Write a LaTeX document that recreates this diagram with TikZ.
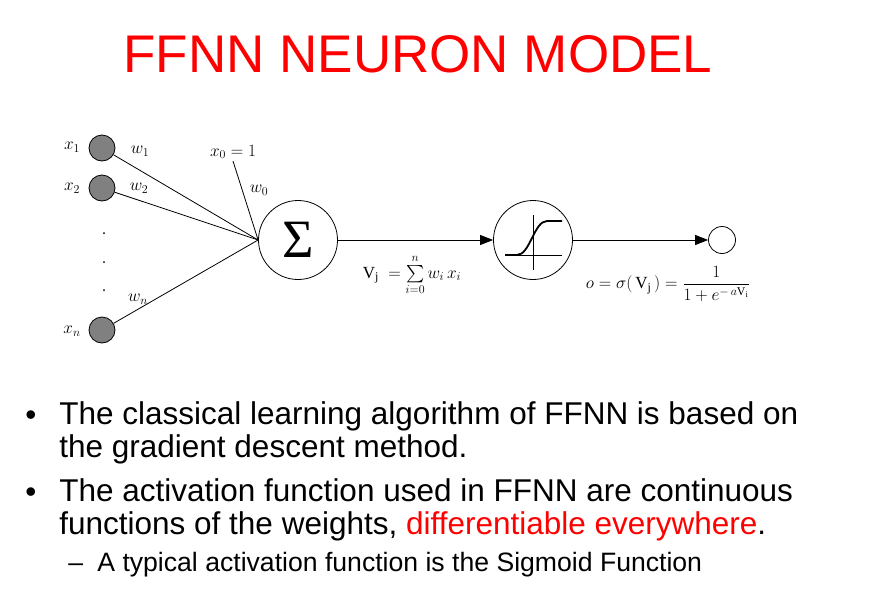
\documentclass[tikz,border=0pt]{standalone}
\usepackage{amsmath}
\usepackage{fontspec}
\setmainfont{Liberation Sans}
\setmathrm{Liberation Serif}
\newfontfamily\dgfont{Liberation Serif}
\usetikzlibrary{arrows.meta}
\tikzset{
    input/.style={circle, draw, fill=gray, minimum size=26pt, inner sep=0pt}, % 输入节点
    unit/.style={circle, draw, fill=white, minimum size=79pt, inner sep=0pt}, % 求和与激活单元
    lbl/.style={inner sep=0pt, font=\fontsize{17}{19}\selectfont}, % 图中标注
    flow/.style={-{Triangle[length=13pt, width=10pt]}}, % 带箭头的连线
    body/.style={anchor=base west, inner sep=0pt, align=left, font=\fontsize{31.5}{32.5}\selectfont}, % 正文
    subbody/.style={body, font=\fontsize{26.6}{30}\selectfont} % 子条目
}

\begin{document}
\begin{tikzpicture}[x=1pt, y=-1pt, line width=0.8pt]
    \useasboundingbox (0,0) rectangle (870,592);
    \node[red, inner sep=0pt, anchor=base, font=\fontsize{53}{60}\selectfont] (title) at (418,72) {FFNN NEURON MODEL};

    \node[input] (x1) at (102,148) {};
    \node[input] (x2) at (102,188) {};
    \node[input] (xn) at (102,330) {};
    \coordinate (x0) at (233,161);
    \node[lbl] (lx1) at (72,147) {$x_1$};
    \node[lbl] (lx2) at (72,188) {$x_2$};
    \node[lbl] (lxn) at (72,331) {$x_n$};
    \node[lbl] (lx0) at (233,152) {$x_0 = 1$};
    \foreach \y in {233,262,290} {\fill (104,\y) circle (1pt);}

    \node[unit] (sum) at (298,240) {\dgfont\fontsize{54}{54}\selectfont Σ};
    \node[unit] (act) at (533,240) {};
    \node[circle, draw, minimum size=27pt, inner sep=0pt] (out) at (722,240) {};

    \foreach \i in {x1,x2,xn,x0} {\draw (\i) -- (sum.west);}
    \node[lbl] (w1) at (140,151) {$w_1$};
    \node[lbl] (w2) at (139,188) {$w_2$};
    \node[lbl] (wn) at (138,299) {$w_n$};
    \node[lbl] (w0) at (259,190) {$w_0$};

    \draw[flow] (sum) -- (act);
    \draw[flow] (act) -- (out);

    \begin{scope}[shift={(act.center)}]
        \draw[line width=0.6pt] (0,-25) -- (0,30);
        \draw[line width=0.6pt] (-28,15) -- (29,15);
        \draw[line width=1.8pt] (-28,15) -- (-16,15) .. controls (-3,15) and (1,-19) .. (14,-19) -- (29,-19);
    \end{scope}

    \node[lbl] (vsum) at (412,275) {$\mathrm{V}_{\mathrm{j}} \;= \textstyle\sum\limits_{i=0}^{n} w_i\, x_i$};
    \node[lbl] (sig) at (668,284) {$o = \sigma(\,\mathrm{V}_{\mathrm{j}}\,) = \dfrac{1}{1+e^{-\,a\mathrm{V}_{\mathrm{i}}}}$};

    \node[body] (dot1) at (25,425) {•};
    \node[body] (b1) at (59,457) {The classical learning algorithm of FFNN is based on\\the gradient descent method.};
    \node[body] (dot2) at (25,502) {•};
    \node[body] (b2) at (59,534) {The activation function used in FFNN are continuous\\functions of the weights, \textcolor{red}{differentiable everywhere}.};
    \node[subbody] (dash1) at (68,571) {–};
    \node[subbody] (s1) at (97,571) {A typical activation function is the Sigmoid Function};
\end{tikzpicture}
\end{document}
